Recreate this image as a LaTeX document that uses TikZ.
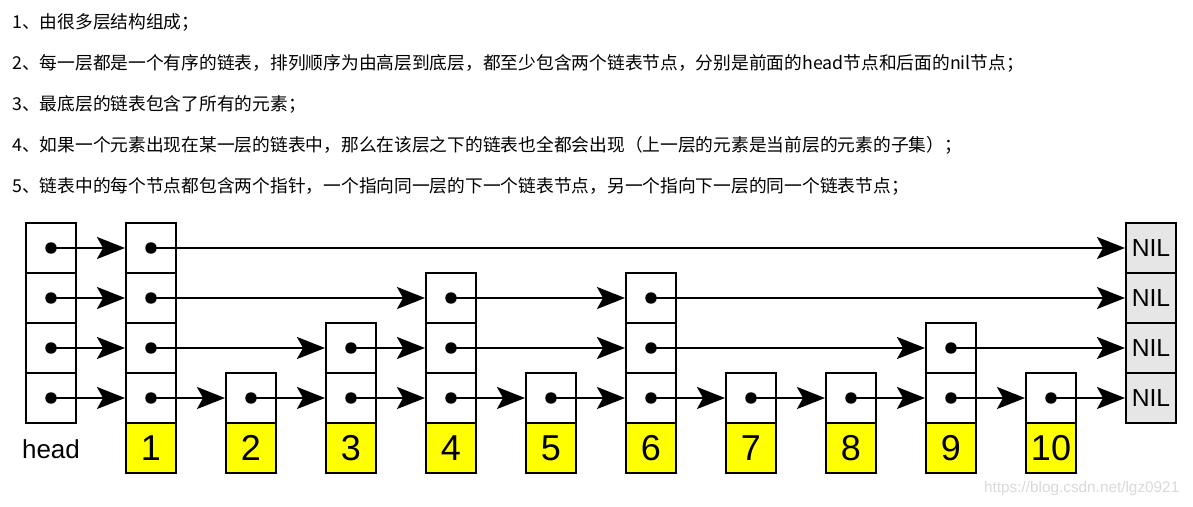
\documentclass[tikz,border=0pt]{standalone}
\usepackage{fontspec}
\setmainfont{Liberation Sans}
\newfontfamily\cjkfont{Noto Sans CJK SC}
\usepackage{xcolor}
\usetikzlibrary{arrows.meta}
\definecolor{nilgray}{HTML}{E6E6E6}
\definecolor{keyyellow}{HTML}{FFFF00}
\tikzset{
  cell/.style={draw,line width=1.5pt,minimum width=37.5pt,minimum height=37.5pt,
               inner sep=0pt,fill=white},
  keycell/.style={cell,fill=keyyellow,font=\fontsize{27}{27}\selectfont},
  nilcell/.style={cell,fill=nilgray,font=\fontsize{18.5}{18.5}\selectfont},
  ptr/.style={-{Stealth[length=21pt,width=16.5pt,inset=4.5pt]},line width=1.5pt},
  txt/.style={anchor=west,inner sep=0pt,font=\cjkfont\fontsize{13.3}{16}\selectfont}
}

\begin{document}
\begin{tikzpicture}[x=0.75pt,y=-0.75pt]
  \useasboundingbox (0,0) rectangle (1193,507);
  % ---- rules as text ----
  \node[txt] (l1) at (12,22)  {1、由很多层结构组成；};
  \node[txt] (l2) at (12,63)  {2、每一层都是一个有序的链表，排列顺序为由高层到底层，都至少包含两个链表节点，分别是前面的head节点和后面的nil节点；};
  \node[txt] (l3) at (12,104) {3、最底层的链表包含了所有的元素；};
  \node[txt] (l4) at (12,145) {4、如果一个元素出现在某一层的链表中，那么在该层之下的链表也全都会出现（上一层的元素是当前层的元素的子集）；};
  \node[txt] (l5) at (12,186) {5、链表中的每个节点都包含两个指针，一个指向同一层的下一个链表节点，另一个指向下一层的同一个链表节点；};
  % ---- towers: column / height ----
  \foreach \c/\h in {0/4,1/4,2/1,3/2,4/3,5/1,6/3,7/1,8/1,9/2,10/1}{
    \foreach \r in {1,...,4}{
      \ifnum\r>\numexpr4-\h\relax
        \node[cell] (c\c r\r) at (51+100*\c,198+50*\r) {};
        \fill (c\c r\r.center) circle[radius=4.3pt];
      \fi
    }
  }
  \foreach \c in {1,...,10}
    \node[keycell] (k\c) at (51+100*\c,448) {\c};
  \foreach \r in {1,...,4}
    \node[nilcell] (c11r\r) at (1151,198+50*\r) {NIL};
  \node[font=\fontsize{19.5}{20}\selectfont] (head) at (51,449) {head};
  % ---- forward pointers per level ----
  \foreach \r/\cols in {1/{1,11},2/{1,4,6,11},3/{1,3,4,6,9,11},4/{1,2,3,4,5,6,7,8,9,10,11}}{
    \foreach \c [remember=\c as \p (initially 0)] in \cols
      \draw[ptr] (c\p r\r.center) -- (c\c r\r.west);
  }
  \node[text=black!15,font=\fontsize{11.5}{12}\selectfont,anchor=east] (mark) at (1184,489) {https://blog.csdn.net/lgz0921};
\end{tikzpicture}
\end{document}
